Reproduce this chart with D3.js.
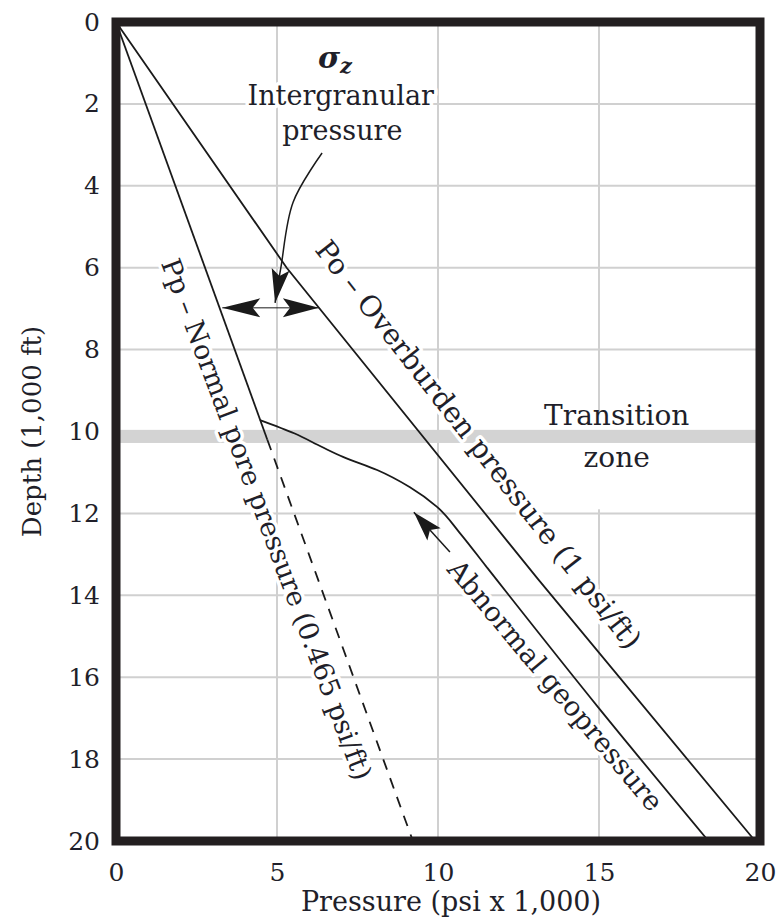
<!DOCTYPE html>
<meta charset="utf-8">
<style>
body { margin: 0; background: #fff; }
text { font-family: "DejaVu Serif", serif; fill: #1f1f2a; }
.halo { paint-order: stroke; stroke: #fff; stroke-width: 7px; stroke-linejoin: round; }
</style>
<body>
<script src="https://cdnjs.cloudflare.com/ajax/libs/d3/7.8.5/d3.min.js"></script>
<script>

// ticks
var pressureTicks = [0, 5, 10, 15, 20];
var depthTicks = [0, 2, 4, 6, 8, 10, 12, 14, 16, 18, 20];

// overburden line (depth in 1,000 ft, pressure in psi x 1,000)
var overburdenDepth = [0, 6, 13.6, 20];
var overburdenPsi = [0, 5.3, 13.1, 19.85];

// normal pore pressure: solid to 10.2, dashed beyond
var poreDepth = [0, 10.2, 20];
var porePsi = [0, 4.7, 9.22];

// abnormal geopressure curve
var abnormalDepth = [9.72, 10.05, 10.38, 10.62, 10.94, 11.36, 11.84, 12.48, 13.3, 16.73, 20];
var abnormalPsi = [4.47, 5.55, 6.4, 7.05, 8.11, 9.13, 9.97, 10.68, 11.5, 14.97, 18.4];

// transition zone band
var transitionZone = [9.96, 10.28];

var width = 782, height = 924;
var x = d3.scaleLinear().domain([0, 20]).range([116, 760]);
var y = d3.scaleLinear().domain([0, 20]).range([22, 841]);

var svg = d3.select("body").append("svg")
    .attr("width", width)
    .attr("height", height);

function zip(ds, ps) { return ds.map(function(d, i) { return {d: d, p: ps[i]}; }); }

// grid
svg.append("g").selectAll("line")
    .data(pressureTicks.slice(1, -1))
  .enter().append("line")
    .attr("x1", function(d) { return x(d); }).attr("x2", function(d) { return x(d); })
    .attr("y1", y(0)).attr("y2", y(20))
    .style("stroke", "#d0d0d0").style("stroke-width", 2);
svg.append("g").selectAll("line")
    .data(depthTicks.slice(1, -1))
  .enter().append("line")
    .attr("y1", function(d) { return y(d); }).attr("y2", function(d) { return y(d); })
    .attr("x1", x(0)).attr("x2", x(20))
    .style("stroke", "#d0d0d0").style("stroke-width", 2);

// white box behind transition text
svg.append("rect")
    .attr("x", x(15.55) - 80).attr("y", y(9.55))
    .attr("width", 160).attr("height", y(11.9) - y(9.55))
    .style("fill", "#fff");

// transition band
svg.append("rect")
    .attr("x", x(0)).attr("width", x(20) - x(0))
    .attr("y", y(transitionZone[0]))
    .attr("height", y(transitionZone[1]) - y(transitionZone[0]))
    .style("fill", "#d3d3d3");

var line = d3.line()
    .x(function(d) { return x(d.p); })
    .y(function(d) { return y(d.d); });

var pore = zip(poreDepth, porePsi);

// labels go under the lines so the halos only cut the grid
function label(text, p, d, angle, anchor, size) {
  return svg.append("text")
      .attr("class", "halo")
      .attr("transform", "translate(" + x(p) + "," + y(d) + ") rotate(" + angle + ")")
      .attr("text-anchor", anchor || "start")
      .style("font-size", (size || 27) + "px")
      .text(text);
}
label("Po \u2013 Overburden pressure (1 psi/ft)", 6.15, 5.57, 52, "start", 28.5);
label("Pp \u2013 Normal pore pressure (0.465 psi/ft)", 7.42, 18.56, 69.5, "end", 27);
label("Abnormal geopressure", 10.25, 13.38, 50, "start", 27.5);
label("Intergranular", 6.98, 2.03, 0, "middle", 27);
label("pressure", 7.03, 2.88, 0, "middle", 27);

svg.append("path")
    .datum(zip(overburdenDepth, overburdenPsi))
    .attr("d", line)
    .style("fill", "none").style("stroke", "#1a1a1a").style("stroke-width", 1.8);

svg.append("path")
    .datum(pore.slice(0, 2))
    .attr("d", line)
    .style("fill", "none").style("stroke", "#1a1a1a").style("stroke-width", 1.8);

svg.append("path")
    .datum(pore.slice(1))
    .attr("d", line)
    .style("fill", "none").style("stroke", "#1a1a1a").style("stroke-width", 1.8)
    .style("stroke-dasharray", "11,9");

svg.append("path")
    .datum(zip(abnormalDepth, abnormalPsi))
    .attr("d", line.curve(d3.curveMonotoneY))
    .style("fill", "none").style("stroke", "#1a1a1a").style("stroke-width", 1.8);
line.curve(d3.curveLinear);

// arrow heads
function head(tip, from, len, hw) {
  var dx = tip[0] - from[0], dy = tip[1] - from[1];
  var n = Math.sqrt(dx * dx + dy * dy);
  var ux = dx / n, uy = dy / n, px = -uy, py = ux;
  var bx = tip[0] - ux * len, by = tip[1] - uy * len;
  var nx = tip[0] - ux * len * 0.8, ny = tip[1] - uy * len * 0.8;
  return "M" + tip[0] + "," + tip[1] +
    "L" + (bx + px * hw) + "," + (by + py * hw) +
    "L" + nx + "," + ny +
    "L" + (bx - px * hw) + "," + (by - py * hw) + "Z";
}
function pt(p, d) { return [x(p), y(d)]; }

var ann = svg.append("g");

// intergranular arrow (down)
var igPts = [pt(6.4, 3.2), pt(5.5, 4.4), pt(5.12, 6.0), pt(4.94, 6.86)];
ann.append("path")
    .attr("d", d3.line().curve(d3.curveCatmullRom)(igPts))
    .style("fill", "none").style("stroke", "#1a1a1a").style("stroke-width", 1.5);
ann.append("path").attr("d", head(igPts[3], igPts[2], 34, 9)).style("fill", "#1a1a1a");

// double arrow
var dl = pt(3.3, 6.98), dr = pt(6.3, 6.98);
ann.append("line")
    .attr("x1", dl[0]).attr("y1", dl[1]).attr("x2", dr[0]).attr("y2", dr[1])
    .style("stroke", "#1a1a1a").style("stroke-width", 1);
ann.append("path").attr("d", head(dl, dr, 38, 9.5)).style("fill", "#1a1a1a");
ann.append("path").attr("d", head(dr, dl, 36, 9.5)).style("fill", "#1a1a1a");

// abnormal arrow
var at = pt(9.25, 11.97), af = pt(10.37, 12.94);
ann.append("line")
    .attr("x1", at[0]).attr("y1", at[1]).attr("x2", af[0]).attr("y2", af[1])
    .style("stroke", "#1a1a1a").style("stroke-width", 1.5);
ann.append("path").attr("d", head(at, af, 30, 9)).style("fill", "#1a1a1a");

svg.append("text").attr("x", x(15.55)).attr("y", y(9.84))
    .attr("text-anchor", "middle").style("font-size", "28px").text("Transition");
svg.append("text").attr("x", x(15.55)).attr("y", y(10.87))
    .attr("text-anchor", "middle").style("font-size", "28px").text("zone");

var sig = svg.append("text").attr("x", x(6.27)).attr("y", y(1.12))
    .style("font-weight", "bold").style("font-style", "italic").style("font-size", "30px");
sig.append("tspan").text("\u03c3");
sig.append("tspan").attr("dy", 5).style("font-size", "21px").text("z");

// frame
svg.append("rect")
    .attr("x", x(0)).attr("y", y(0))
    .attr("width", x(20) - x(0)).attr("height", y(20) - y(0))
    .style("fill", "none").style("stroke", "#231f20").style("stroke-width", 9);

// axes
var xAxis = svg.append("g")
    .attr("transform", "translate(0," + (y(20) + 4) + ")")
    .call(d3.axisBottom(x).tickValues(pressureTicks).tickSize(0).tickPadding(18).tickFormat(d3.format("d")));
var yAxis = svg.append("g")
    .attr("transform", "translate(" + (x(0) - 4) + ",0)")
    .call(d3.axisLeft(y).tickValues(depthTicks).tickSize(0).tickPadding(12).tickFormat(d3.format("d")));
[xAxis, yAxis].forEach(function(a) {
  a.select(".domain").remove();
  a.selectAll("text").style("font-family", "DejaVu Serif, serif").style("font-size", "25px").style("fill", "#1f1f2a");
});

svg.append("text")
    .attr("x", 451).attr("y", 911)
    .attr("text-anchor", "middle").style("font-size", "27px")
    .text("Pressure (psi x 1,000)");
svg.append("text")
    .attr("transform", "translate(41," + y(10) + ") rotate(-90)")
    .attr("text-anchor", "middle").style("font-size", "26px")
    .text("Depth (1,000 ft)");

</script>
</body>
